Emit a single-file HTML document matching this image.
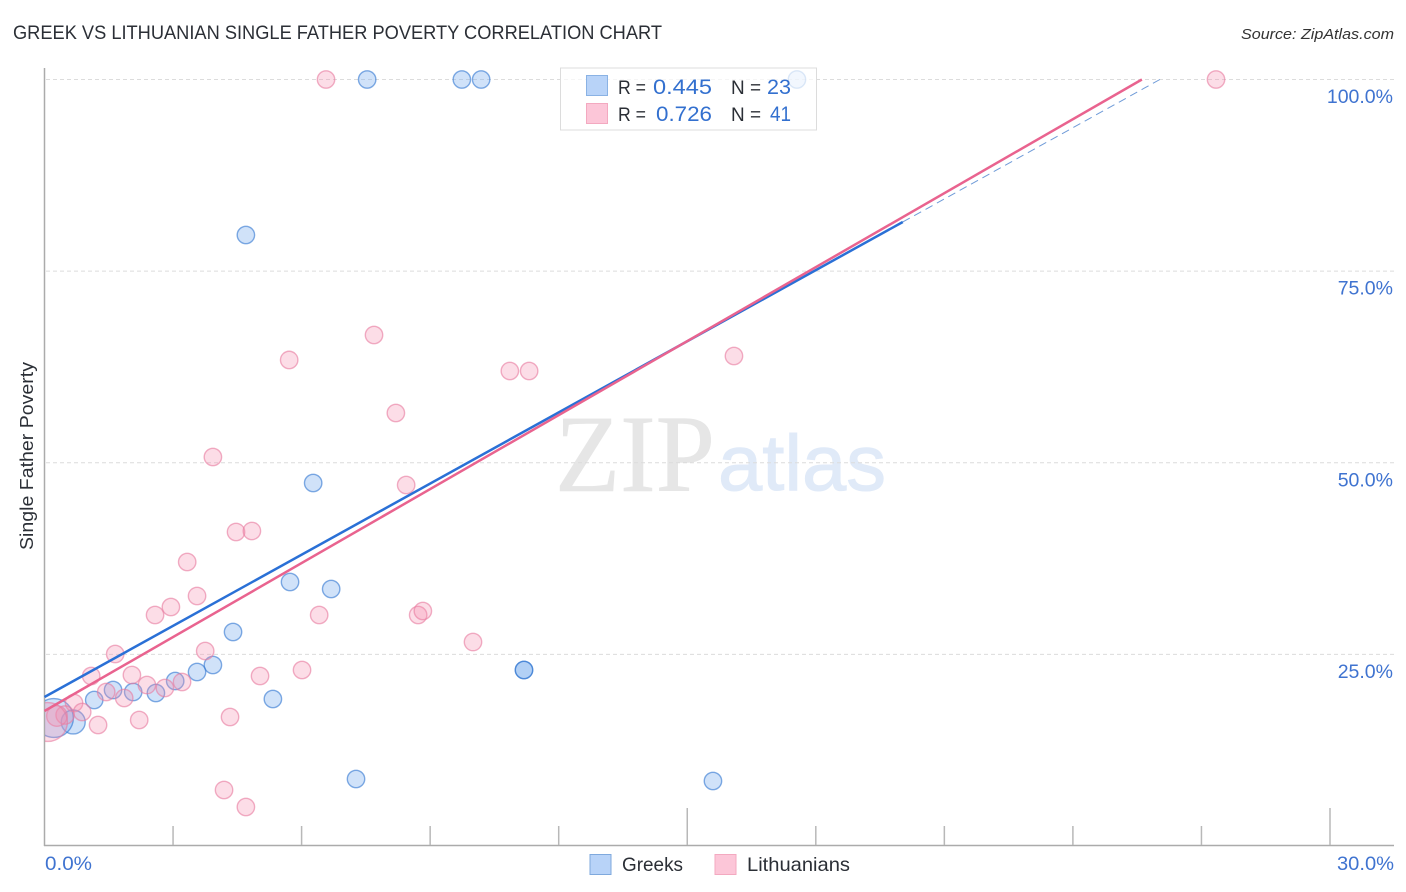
<!DOCTYPE html>
<html lang="en">
<head>
<meta charset="utf-8">
<title>Greek vs Lithuanian Single Father Poverty Correlation Chart</title>
<style>
html,body{margin:0;padding:0;background:#fff;width:1406px;height:892px;overflow:hidden}
svg{display:block;font-family:"Liberation Sans",sans-serif}
</style>
</head>
<body>
<svg id="chart" xmlns="http://www.w3.org/2000/svg" width="1406" height="892" viewBox="0 0 1406 892">
  <defs><clipPath id="plot-clip"><rect x="45" y="60" width="1349" height="786"/></clipPath></defs>
  <rect width="1406" height="892" fill="#fff"/>
  <text x="13" y="39" font-size="19" fill="#2b2f36" textLength="649" lengthAdjust="spacingAndGlyphs">GREEK VS LITHUANIAN SINGLE FATHER POVERTY CORRELATION CHART</text>
  <text x="1241" y="39" font-size="15" font-style="italic" fill="#333" textLength="153" lengthAdjust="spacingAndGlyphs">Source: ZipAtlas.com</text>
  <g id="watermark">
    <text x="555" y="491" font-family="'Liberation Serif',serif" font-size="110" fill="#e6e6e6" stroke="#e6e6e6" stroke-width="0.6" textLength="160" lengthAdjust="spacingAndGlyphs">ZIP</text>
    <text x="718" y="490" font-size="79" fill="#e0eaf8" stroke="#e0eaf8" stroke-width="1" textLength="168" lengthAdjust="spacingAndGlyphs">atlas</text>
  </g>
  <g id="grid"></g>
  <g id="axes"></g>
  <g id="points-greeks" clip-path="url(#plot-clip)"></g>
  <g id="points-lithuanians" clip-path="url(#plot-clip)"></g>
  <g id="trends"></g>
  <g id="tick-labels"></g>
  <text transform="translate(33,456) rotate(-90)" text-anchor="middle" font-size="18" fill="#2b2f36" textLength="188" lengthAdjust="spacingAndGlyphs">Single Father Poverty</text>
  <g>
    <rect x="560.5" y="68" width="256" height="62" fill="#fff" fill-opacity="0.72" stroke="#dcdcdc" stroke-width="1"/>
    <rect x="586.5" y="75.5" width="21" height="20" fill="#b8d3f8" stroke="#8ab2e4" stroke-width="1"/>
    <rect x="586.5" y="103.5" width="21" height="20" fill="#fcc6d8" stroke="#f3a9c0" stroke-width="1"/>
    <g font-size="19.5" fill="#2b2f36">
      <text x="618" y="94" textLength="28" lengthAdjust="spacingAndGlyphs">R =</text>
      <text x="731" y="94" textLength="30" lengthAdjust="spacingAndGlyphs">N =</text>
      <text x="618" y="121" textLength="28" lengthAdjust="spacingAndGlyphs">R =</text>
      <text x="731" y="121" textLength="30" lengthAdjust="spacingAndGlyphs">N =</text>
    </g>
    <g font-size="21.5" fill="#3370cf">
      <text x="653" y="94" textLength="59" lengthAdjust="spacingAndGlyphs">0.445</text>
      <text x="767" y="94" textLength="24" lengthAdjust="spacingAndGlyphs">23</text>
      <text x="656" y="121" textLength="56" lengthAdjust="spacingAndGlyphs">0.726</text>
      <text x="770" y="121" textLength="21" lengthAdjust="spacingAndGlyphs">41</text>
    </g>
  </g>
  <g>
    <g>
      <rect x="590" y="854.5" width="21" height="20" fill="#b8d3f8" stroke="#7fa9dd" stroke-width="1"/>
      <text x="622" y="871" font-size="19.5" fill="#2b2f36" textLength="61" lengthAdjust="spacingAndGlyphs">Greeks</text>
    </g>
    <g>
      <rect x="715" y="854.5" width="21" height="20" fill="#fcc6d8" stroke="#f3a9c0" stroke-width="1"/>
      <text x="747" y="871" font-size="19.5" fill="#2b2f36" textLength="103" lengthAdjust="spacingAndGlyphs">Lithuanians</text>
    </g>
  </g>
</svg>
<script>
// ---- chart data (percent units) ----
const greekX = [7.53,9.74,10.19,17.56,4.70,6.27,5.73,6.69,4.40,3.93,3.56,3.05,5.33,2.60,2.07,1.60,1.16,0.67,0.22,11.19,11.19,7.27,15.60];
const greekY = [100,100,100,100,79.71,47.36,34.44,33.53,27.92,23.61,22.70,21.53,19.18,19.96,20.09,20.35,19.05,16.18,16.70,22.96,22.96,8.74,8.48];
const greekWeight = [1,1,1,1,1,1,1,1,1,1,1,1,1,1,1,1,1,1.9,5,1,1,1,1];
const lithX = [6.57,27.34,7.69,5.71,16.09,10.86,11.31,8.20,3.93,8.44,4.47,4.84,3.33,3.56,2.95,2.58,6.41,8.72,8.83,10.00,3.75,1.65,1.09,6.01,5.03,2.04,2.39,3.21,2.81,1.44,1.86,0.69,0.88,2.21,1.25,4.33,4.19,4.70,0.48,0.29,0.08];
const lithY = [100,100,66.67,63.41,63.93,61.97,61.97,56.49,50.75,47.10,40.97,41.10,37.05,32.62,31.18,30.14,30.14,30.14,30.66,26.61,25.44,25.05,22.18,22.96,22.18,22.31,21.00,21.40,20.61,20.09,19.31,18.66,17.48,16.44,15.79,16.83,7.31,5.09,17.09,16.96,16.18];
const lithWeight = [1,1,1,1,1,1,1,1,1,1,1,1,1,1,1,1,1,1,1,1,1,1,1,1,1,1,1,1,1,1,1,1,1,1,1,1,1,1,1.1,1.4,5];
const greekTrendX = [0,20.03];
const greekTrendY = [19.44,81.41];
const greekExtendX = [20.03,26.03];
const greekExtendY = [81.41,100];
const lithTrendX = [0,25.61];
const lithTrendY = [17.61,100];
const yTicks = [100,75,50,25];
const yTickLabels = ['100.0%','75.0%','50.0%','25.0%'];
const xTicks = [3,6,9,12,15,18,21,24,27,30];
const xMajorTicks = [15,30];
const xEndLabels = ['0.0%','30.0%'];

// ---- axis functions ----
const xScale = v => 44.5 + v * 42.85;
const yScale = v => 846 - v * 7.665;
const radius = w => 8.7 * Math.sqrt(w);
const NS = 'http://www.w3.org/2000/svg';
function make(tag, parent, attrs, text) {
  const el = document.createElementNS(NS, tag);
  for (const k in attrs) el.setAttribute(k, attrs[k]);
  if (text !== undefined) el.textContent = text;
  parent.appendChild(el);
  return el;
}
const $ = id => document.getElementById(id);

yTicks.forEach(function (t) {
  const g = make('line', $('grid'), {x1: 46, x2: 1394, y1: yScale(t), y2: yScale(t), stroke: '#dcdcdc', 'stroke-width': 1, 'stroke-dasharray': '4 3'});
  
  
});

const yAxis = make('line', $('axes'), {x1: 44.5, x2: 44.5, y1: 68, y2: 846, stroke: '#ababab', 'stroke-width': 1.5});


const xAxis = make('line', $('axes'), {x1: 44, x2: 1394, y1: 845.5, y2: 845.5, stroke: '#ababab', 'stroke-width': 1.5});


xTicks.forEach(function (t) {
  const top = xMajorTicks.includes(t) ? 808 : 826;
  const tick = make('line', $('axes'), {x1: xScale(t), x2: xScale(t), y1: top, y2: 845, stroke: '#b8b8b8', 'stroke-width': 1.5});
  
  
});

function drawPoints(group, xs, ys, ws, fill, fillOpacity, stroke, name) {
  xs.forEach(function (x, i) {
    const c = make('circle', group, {cx: xScale(x), cy: yScale(ys[i]), r: radius(ws[i]), fill: fill, 'fill-opacity': fillOpacity, stroke: stroke, 'stroke-opacity': 0.6, 'stroke-width': 1.4});
    
    
  });
}
drawPoints($('points-lithuanians'), lithX, lithY, lithWeight, '#f48fb1', 0.3, '#e8799f', 'lithuanians-point');
drawPoints($('points-greeks'), greekX, greekY, greekWeight, '#7fb0ee', 0.37, '#2f74d0', 'greeks-point');

const ext = make('line', $('trends'), {x1: xScale(greekExtendX[0]), y1: yScale(greekExtendY[0]), x2: xScale(greekExtendX[1]), y2: yScale(greekExtendY[1]), stroke: '#6f9bd8', 'stroke-width': 1, 'stroke-dasharray': '8 5'});


const gl = make('line', $('trends'), {x1: xScale(greekTrendX[0]), y1: yScale(greekTrendY[0]), x2: xScale(greekTrendX[1]), y2: yScale(greekTrendY[1]), stroke: '#2a70d6', 'stroke-width': 2.5});


const ll = make('line', $('trends'), {x1: xScale(lithTrendX[0]), y1: yScale(lithTrendY[0]), x2: xScale(lithTrendX[1]), y2: yScale(lithTrendY[1]), stroke: '#e9638f', 'stroke-width': 2.5});



yTicks.forEach(function (t, i) {
  const lab = make('text', $('tick-labels'), {x: 1393, y: yScale(t) + 23.6, 'text-anchor': 'end', 'font-size': 19.5, fill: '#3f73d0'}, yTickLabels[i]);
  
  
});
const x0 = make('text', $('tick-labels'), {x: 45, y: 870, 'font-size': 19.5, fill: '#3f73d0', textLength: 47, lengthAdjust: 'spacingAndGlyphs'}, xEndLabels[0]);


const x1 = make('text', $('tick-labels'), {x: 1337, y: 870, 'font-size': 19.5, fill: '#3f73d0', textLength: 57, lengthAdjust: 'spacingAndGlyphs'}, xEndLabels[1]);


</script>
</body>
</html>
